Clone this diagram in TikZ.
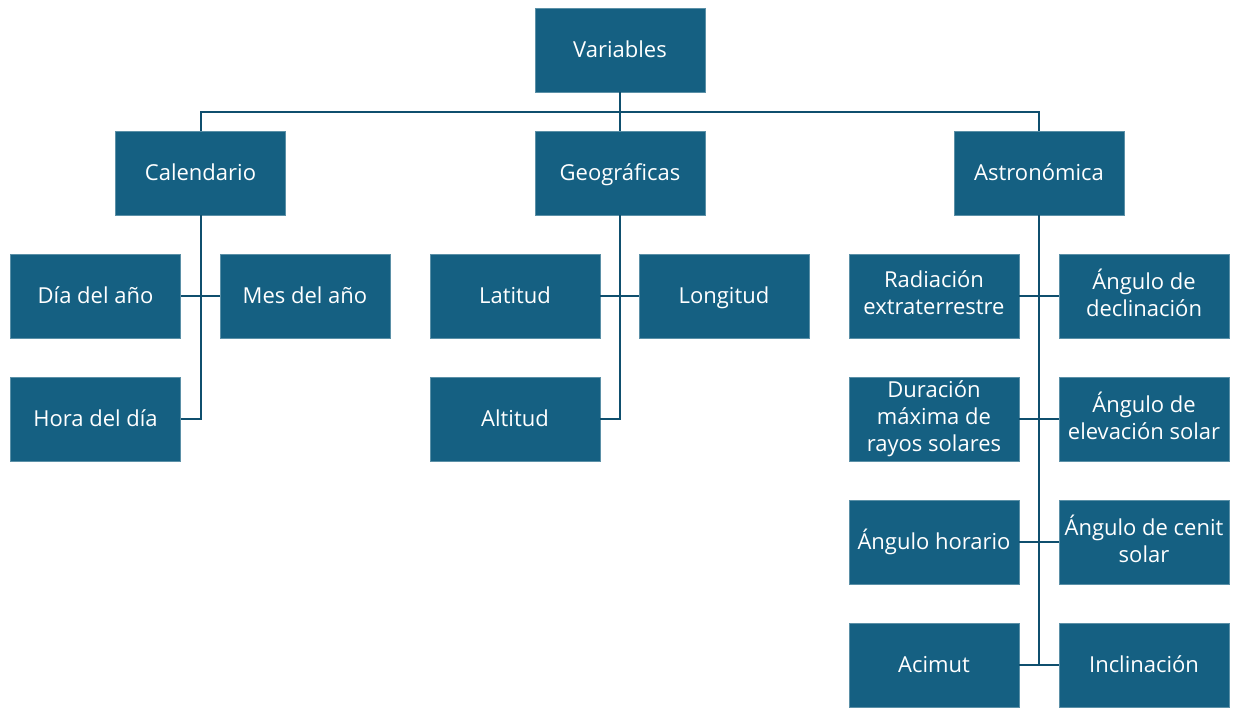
\documentclass[tikz,border=0pt]{standalone}
\usepackage{fontspec}
\setmainfont{Open Sans}
\definecolor{boxblue}{HTML}{156082}
\definecolor{linkblue}{HTML}{0F4F6E}
\newcommand{\bxstrutA}{\rule[0pt]{0pt}{20.5pt}}
\newcommand{\bxstrutB}{\rule[-6pt]{0pt}{6pt}}
\begin{document}
\begin{tikzpicture}[x=1pt,y=-1pt,
  box/.style={draw=boxblue!70!white, line width=0.6pt, fill=boxblue, text=white, minimum width=170pt, minimum height=84pt, inner sep=2pt, align=center, font=\fontsize{22}{27}\selectfont, execute at begin node={\bxstrutA}, execute at end node={\bxstrutB}},
  link/.style={draw=linkblue, line width=2pt}]
\useasboundingbox (0,0) rectangle (1233,707);
% level 0
\node[box] (var) at (620,50) {Variables};
% level 1
\node[box] (cal) at (200.5,173) {Calendario};
\node[box] (geo) at (620,173) {Geográficas};
\node[box] (ast) at (1039,173) {Astronómica};
% calendario
\node[box] (dia) at (95.5,296) {Día del año};
\node[box] (mes) at (305,296) {Mes del año};
\node[box] (hora) at (95.5,419) {Hora del día};
% geograficas
\node[box] (lat) at (515,296) {Latitud};
\node[box] (lon) at (724,296) {Longitud};
\node[box] (alt) at (515,419) {Altitud};
% astronomica
\node[box] (rad) at (934,296) {Radiación\\extraterrestre};
\node[box] (dec) at (1144,296) {Ángulo de\\declinación};
\node[box] (dur) at (934,419) {Duración\\máxima de\\rayos solares};
\node[box] (elev) at (1144,419) {Ángulo de\\elevación solar};
\node[box] (hor) at (934,542) {Ángulo horario};
\node[box] (cen) at (1144,542) {Ángulo de cenit\\solar};
\node[box] (aci) at (934,665) {Acimut};
\node[box] (inc) at (1144,665) {Inclinación};
% bus coordinates
\coordinate (bus) at (620,112);
\draw[link] (var.south) -- (geo.north);
\draw[link] (cal.north) |- (bus) -| (ast.north);
% calendario
\draw[link] (cal.south) |- (hora.east);
\draw[link] (dia.east) -- (mes.west);
% geograficas
\draw[link] (geo.south) |- (alt.east);
\draw[link] (lat.east) -- (lon.west);
% astronomica
\draw[link] (ast.south) -- (ast.south |- aci.east);
\draw[link] (rad.east) -- (dec.west);
\draw[link] (dur.east) -- (elev.west);
\draw[link] (hor.east) -- (cen.west);
\draw[link] (aci.east) -- (inc.west);
\end{tikzpicture}
\end{document}
